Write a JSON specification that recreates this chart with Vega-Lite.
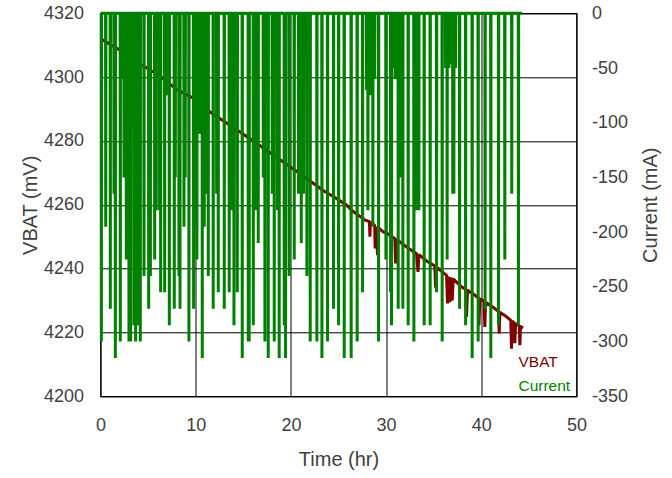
{
"$schema": "https://vega.github.io/schema/vega-lite/v6.json",
"width": 476, "height": 383,
"autosize": "none",
"padding": {"left": 100.5, "top": 13.3, "right": 95, "bottom": 82},
"background": "white",
"config": {
 "font": "Liberation Sans",
 "view": {"stroke": "#000", "strokeWidth": 1.2},
 "axis": {"labelFont": "Liberation Sans", "titleFont": "Liberation Sans", "labelFontSize": 18, "titleFontSize": 20, "labelColor": "#404040", "titleColor": "#404040", "titleFontWeight": "normal", "ticks": false, "tickSize": 0, "domain": false, "gridColor": "#000", "gridOpacity": 1, "gridWidth": 1, "zindex": 1, "labelFlush": false, "labelOverlap": false}
},
"datasets": {
 "vbat": [
  {"t":0,"v":4312},{"t":0.26,"v":4311.6},{"t":1.84,"v":4308.8},{"t":3.87,"v":4304.6},{"t":5.97,"v":4300.9},{"t":8.07,"v":4296},{"t":10.13,"v":4292.8},{"t":11.5,"v":4289.1},{"t":14.12,"v":4283.9},{"t":16.92,"v":4278.2},{"t":20.18,"v":4271.4},{"t":22.38,"v":4266.7},{"t":23.4,"v":4264.5},{"t":24.66,"v":4262.2},{"t":25.85,"v":4259.9},{"t":26.58,"v":4257.8},{"t":27.8,"v":4255.2},{"t":28.25,"v":4254.7},{"t":28.3,"v":4250},{"t":28.35,"v":4254.5},{"t":28.8,"v":4253.6},{"t":28.85,"v":4246.3},{"t":28.95,"v":4253.2},{"t":29.1,"v":4244.2},{"t":29.2,"v":4252.8},{"t":29.7,"v":4251.5},{"t":30.26,"v":4250.8},{"t":30.92,"v":4249.4},{"t":31.0,"v":4241.6},{"t":31.08,"v":4249.2},{"t":32.15,"v":4246.8},{"t":33.2,"v":4244.7},{"t":33.35,"v":4239},{"t":33.45,"v":4244.4},{"t":34.25,"v":4242.4},{"t":35.12,"v":4240.8},{"t":35.2,"v":4234},{"t":35.28,"v":4240.5},{"t":36.35,"v":4237.9},{"t":36.45,"v":4229.1},{"t":36.55,"v":4237.5},{"t":36.7,"v":4229.5},{"t":36.8,"v":4237.3},{"t":36.95,"v":4230},{"t":37.05,"v":4236.8},{"t":37.92,"v":4234.3},{"t":38.4,"v":4233.5},{"t":38.45,"v":4224.9},{"t":38.55,"v":4233.2},{"t":39.32,"v":4231.7},{"t":39.7,"v":4230.8},{"t":39.75,"v":4222.3},{"t":39.85,"v":4230.5},{"t":40.3,"v":4229.8},{"t":40.37,"v":4221.7},{"t":40.45,"v":4229.5},{"t":41.42,"v":4227.5},{"t":41.82,"v":4226.5},{"t":41.88,"v":4219.7},{"t":41.95,"v":4226.3},{"t":42.65,"v":4224.9},{"t":43.1,"v":4223.8},{"t":43.17,"v":4214.9},{"t":43.25,"v":4223.6},{"t":43.45,"v":4223},{"t":43.52,"v":4216.6},{"t":43.6,"v":4222.8},{"t":44.0,"v":4222},{"t":44.05,"v":4216},{"t":44.12,"v":4221.8},{"t":44.4,"v":4221.5}
 ],
 "cur": [
  {"t":0,"i":0},
  {"t":0.07,"i":0},{"t":0.09,"i":-300},{"t":0.11,"i":0},
  {"t":0.53,"i":0},{"t":0.55,"i":-195},{"t":0.57,"i":0},
  {"t":1.01,"i":0},{"t":1.03,"i":-270},{"t":1.05,"i":0},
  {"t":1.4,"i":0},{"t":1.42,"i":-165},{"t":1.44,"i":0},
  {"t":1.54,"i":0},{"t":1.56,"i":-315},{"t":1.58,"i":0},
  {"t":2.06,"i":0},{"t":2.08,"i":-300},{"t":2.1,"i":0},
  {"t":2.28,"i":0},{"t":2.3,"i":-60},{"t":2.32,"i":0},
  {"t":2.45,"i":0},{"t":2.47,"i":-150},{"t":2.49,"i":0},
  {"t":2.58,"i":0},{"t":2.6,"i":-70},{"t":2.62,"i":0},
  {"t":2.69,"i":0},{"t":2.71,"i":-225},{"t":2.73,"i":0},
  {"t":2.83,"i":0},{"t":2.85,"i":-100},{"t":2.87,"i":0},
  {"t":2.97,"i":0},{"t":2.99,"i":-300},{"t":3.01,"i":0},
  {"t":3.15,"i":0},{"t":3.17,"i":-300},{"t":3.19,"i":0},
  {"t":3.33,"i":0},{"t":3.35,"i":-105},{"t":3.37,"i":0},
  {"t":3.5,"i":0},{"t":3.52,"i":-285},{"t":3.54,"i":0},
  {"t":3.67,"i":0},{"t":3.69,"i":-300},{"t":3.71,"i":0},
  {"t":3.83,"i":0},{"t":3.85,"i":-60},{"t":3.87,"i":0},
  {"t":3.98,"i":0},{"t":4.0,"i":-285},{"t":4.02,"i":0},
  {"t":4.16,"i":0},{"t":4.18,"i":-300},{"t":4.2,"i":0},
  {"t":4.55,"i":0},{"t":4.57,"i":-240},{"t":4.59,"i":0},
  {"t":5.04,"i":0},{"t":5.06,"i":-270},{"t":5.08,"i":0},
  {"t":5.22,"i":0},{"t":5.24,"i":-240},{"t":5.26,"i":0},
  {"t":5.67,"i":0},{"t":5.69,"i":-225},{"t":5.71,"i":0},
  {"t":5.84,"i":0},{"t":5.86,"i":-180},{"t":5.88,"i":0},
  {"t":6.19,"i":0},{"t":6.21,"i":-180},{"t":6.23,"i":0},
  {"t":6.3,"i":0},{"t":6.32,"i":-255},{"t":6.34,"i":0},
  {"t":6.72,"i":0},{"t":6.74,"i":-255},{"t":6.76,"i":0},
  {"t":6.88,"i":0},{"t":6.9,"i":-75},{"t":6.92,"i":0},
  {"t":7.21,"i":0},{"t":7.23,"i":-285},{"t":7.25,"i":0},
  {"t":7.73,"i":0},{"t":7.75,"i":-270},{"t":7.77,"i":0},
  {"t":7.84,"i":0},{"t":7.86,"i":-150},{"t":7.88,"i":0},
  {"t":8.22,"i":0},{"t":8.24,"i":-240},{"t":8.26,"i":0},
  {"t":8.33,"i":0},{"t":8.35,"i":-270},{"t":8.37,"i":0},
  {"t":8.75,"i":0},{"t":8.77,"i":-195},{"t":8.79,"i":0},
  {"t":8.88,"i":0},{"t":8.9,"i":-150},{"t":8.92,"i":0},
  {"t":9.27,"i":0},{"t":9.29,"i":-300},{"t":9.31,"i":0},
  {"t":9.76,"i":0},{"t":9.78,"i":-270},{"t":9.8,"i":0},
  {"t":9.87,"i":0},{"t":9.89,"i":-195},{"t":9.91,"i":0},
  {"t":10.11,"i":0},{"t":10.13,"i":-225},{"t":10.15,"i":0},
  {"t":10.28,"i":0},{"t":10.3,"i":-105},{"t":10.32,"i":0},
  {"t":10.43,"i":0},{"t":10.45,"i":-110},{"t":10.47,"i":0},
  {"t":10.55,"i":0},{"t":10.57,"i":-100},{"t":10.59,"i":0},
  {"t":10.67,"i":0},{"t":10.69,"i":-315},{"t":10.71,"i":0},
  {"t":10.78,"i":0},{"t":10.8,"i":-105},{"t":10.82,"i":0},
  {"t":10.88,"i":0},{"t":10.9,"i":-195},{"t":10.92,"i":0},
  {"t":11.01,"i":0},{"t":11.03,"i":-105},{"t":11.05,"i":0},
  {"t":11.13,"i":0},{"t":11.15,"i":-165},{"t":11.17,"i":0},
  {"t":11.3,"i":0},{"t":11.32,"i":-240},{"t":11.34,"i":0},
  {"t":11.82,"i":0},{"t":11.84,"i":-270},{"t":11.86,"i":0},
  {"t":12.18,"i":0},{"t":12.2,"i":-165},{"t":12.22,"i":0},
  {"t":12.35,"i":0},{"t":12.37,"i":-255},{"t":12.39,"i":0},
  {"t":12.98,"i":0},{"t":13.0,"i":-270},{"t":13.02,"i":0},
  {"t":13.5,"i":0},{"t":13.52,"i":-255},{"t":13.54,"i":0},
  {"t":13.68,"i":0},{"t":13.7,"i":-180},{"t":13.72,"i":0},
  {"t":14.0,"i":0},{"t":14.02,"i":-285},{"t":14.04,"i":0},
  {"t":14.35,"i":0},{"t":14.37,"i":-255},{"t":14.39,"i":0},
  {"t":14.87,"i":0},{"t":14.89,"i":-315},{"t":14.91,"i":0},
  {"t":15.5,"i":0},{"t":15.52,"i":-300},{"t":15.54,"i":0},
  {"t":15.6,"i":0},{"t":15.62,"i":-300},{"t":15.64,"i":0},
  {"t":16.03,"i":0},{"t":16.05,"i":-285},{"t":16.07,"i":0},
  {"t":16.31,"i":0},{"t":16.33,"i":-180},{"t":16.35,"i":0},
  {"t":16.55,"i":0},{"t":16.57,"i":-210},{"t":16.59,"i":0},
  {"t":17.08,"i":0},{"t":17.1,"i":-150},{"t":17.12,"i":0},
  {"t":17.25,"i":0},{"t":17.27,"i":-300},{"t":17.29,"i":0},
  {"t":17.6,"i":0},{"t":17.62,"i":-315},{"t":17.64,"i":0},
  {"t":18.02,"i":0},{"t":18.04,"i":-165},{"t":18.06,"i":0},
  {"t":18.23,"i":0},{"t":18.25,"i":-300},{"t":18.27,"i":0},
  {"t":18.58,"i":0},{"t":18.6,"i":-180},{"t":18.62,"i":0},
  {"t":18.75,"i":0},{"t":18.77,"i":-315},{"t":18.79,"i":0},
  {"t":19.28,"i":0},{"t":19.3,"i":-285},{"t":19.32,"i":0},
  {"t":19.42,"i":0},{"t":19.44,"i":-315},{"t":19.46,"i":0},
  {"t":19.8,"i":0},{"t":19.82,"i":-240},{"t":19.84,"i":0},
  {"t":20.33,"i":0},{"t":20.35,"i":-225},{"t":20.37,"i":0},
  {"t":20.78,"i":0},{"t":20.8,"i":-165},{"t":20.82,"i":0},
  {"t":21.07,"i":0},{"t":21.09,"i":-210},{"t":21.11,"i":0},
  {"t":21.31,"i":0},{"t":21.33,"i":-165},{"t":21.35,"i":0},
  {"t":21.66,"i":0},{"t":21.68,"i":-240},{"t":21.7,"i":0},
  {"t":22.01,"i":0},{"t":22.03,"i":-300},{"t":22.05,"i":0},
  {"t":22.71,"i":0},{"t":22.73,"i":-300},{"t":22.75,"i":0},
  {"t":23.24,"i":0},{"t":23.26,"i":-315},{"t":23.28,"i":0},
  {"t":23.83,"i":0},{"t":23.85,"i":-300},{"t":23.87,"i":0},
  {"t":24.46,"i":0},{"t":24.48,"i":-270},{"t":24.5,"i":0},
  {"t":24.99,"i":0},{"t":25.01,"i":-285},{"t":25.03,"i":0},
  {"t":25.58,"i":0},{"t":25.6,"i":-315},{"t":25.62,"i":0},
  {"t":26.31,"i":0},{"t":26.33,"i":-315},{"t":26.35,"i":0},
  {"t":26.94,"i":0},{"t":26.96,"i":-300},{"t":26.98,"i":0},
  {"t":27.51,"i":0},{"t":27.53,"i":-255},{"t":27.55,"i":0},
  {"t":27.93,"i":0},{"t":27.95,"i":-70},{"t":27.97,"i":0},
  {"t":28.07,"i":0},{"t":28.09,"i":-180},{"t":28.11,"i":0},
  {"t":28.28,"i":0},{"t":28.3,"i":-75},{"t":28.32,"i":0},
  {"t":28.46,"i":0},{"t":28.48,"i":-75},{"t":28.5,"i":0},
  {"t":28.59,"i":0},{"t":28.61,"i":-195},{"t":28.63,"i":0},
  {"t":28.78,"i":0},{"t":28.8,"i":-60},{"t":28.82,"i":0},
  {"t":29.19,"i":0},{"t":29.21,"i":-300},{"t":29.23,"i":0},
  {"t":29.96,"i":0},{"t":29.98,"i":-225},{"t":30.0,"i":0},
  {"t":30.45,"i":0},{"t":30.47,"i":-255},{"t":30.49,"i":0},
  {"t":30.55,"i":0},{"t":30.57,"i":-285},{"t":30.59,"i":0},
  {"t":30.73,"i":0},{"t":30.75,"i":-50},{"t":30.77,"i":0},
  {"t":30.93,"i":0},{"t":30.95,"i":-60},{"t":30.97,"i":0},
  {"t":31.25,"i":0},{"t":31.27,"i":-270},{"t":31.29,"i":0},
  {"t":31.48,"i":0},{"t":31.5,"i":-150},{"t":31.52,"i":0},
  {"t":31.63,"i":0},{"t":31.65,"i":-50},{"t":31.67,"i":0},
  {"t":31.74,"i":0},{"t":31.76,"i":-270},{"t":31.78,"i":0},
  {"t":32.3,"i":0},{"t":32.32,"i":-285},{"t":32.34,"i":0},
  {"t":32.9,"i":0},{"t":32.92,"i":-300},{"t":32.94,"i":0},
  {"t":33.18,"i":0},{"t":33.2,"i":-180},{"t":33.22,"i":0},
  {"t":33.42,"i":0},{"t":33.44,"i":-180},{"t":33.46,"i":0},
  {"t":33.98,"i":0},{"t":34.0,"i":-285},{"t":34.02,"i":0},
  {"t":34.61,"i":0},{"t":34.63,"i":-285},{"t":34.65,"i":0},
  {"t":35.28,"i":0},{"t":35.3,"i":-255},{"t":35.32,"i":0},
  {"t":35.87,"i":0},{"t":35.89,"i":-300},{"t":35.91,"i":0},
  {"t":36.23,"i":0},{"t":36.25,"i":-50},{"t":36.27,"i":0},
  {"t":36.39,"i":0},{"t":36.41,"i":-225},{"t":36.43,"i":0},
  {"t":36.58,"i":0},{"t":36.6,"i":-50},{"t":36.62,"i":0},
  {"t":36.75,"i":0},{"t":36.77,"i":-46},{"t":36.79,"i":0},
  {"t":36.98,"i":0},{"t":37.0,"i":-165},{"t":37.02,"i":0},
  {"t":37.1,"i":0},{"t":37.12,"i":-165},{"t":37.14,"i":0},
  {"t":37.28,"i":0},{"t":37.3,"i":-50},{"t":37.32,"i":0},
  {"t":37.7,"i":0},{"t":37.72,"i":-270},{"t":37.74,"i":0},
  {"t":38.33,"i":0},{"t":38.35,"i":-285},{"t":38.37,"i":0},
  {"t":39.02,"i":0},{"t":39.04,"i":-315},{"t":39.06,"i":0},
  {"t":39.65,"i":0},{"t":39.67,"i":-300},{"t":39.69,"i":0},
  {"t":40.38,"i":0},{"t":40.4,"i":-270},{"t":40.42,"i":0},
  {"t":40.98,"i":0},{"t":41.0,"i":-315},{"t":41.02,"i":0},
  {"t":41.79,"i":0},{"t":41.81,"i":-285},{"t":41.83,"i":0},
  {"t":42.45,"i":0},{"t":42.47,"i":-225},{"t":42.49,"i":0},
  {"t":43.18,"i":0},{"t":43.2,"i":-165},{"t":43.22,"i":0},
  {"t":43.88,"i":0},{"t":43.9,"i":-285},{"t":43.92,"i":0},
  {"t":44.3,"i":0}
 ]
},
"layer": [
 {
  "data": {"name": "vbat"},
  "mark": {"type": "line", "strokeWidth": 3, "strokeJoin": "bevel", "strokeCap": "butt"},
  "encoding": {
   "x": {"field": "t", "type": "quantitative", "scale": {"domain": [0, 50], "nice": false, "zero": false},
         "axis": {"values": [0, 10, 20, 30, 40, 50], "title": "Time (hr)", "labelPadding": 20, "titlePadding": 15, "grid": true}},
   "y": {"field": "v", "type": "quantitative", "scale": {"domain": [4200, 4320], "nice": false, "zero": false},
         "axis": {"orient": "left", "values": [4200, 4220, 4240, 4260, 4280, 4300, 4320], "title": "VBAT (mV)", "labelPadding": 17, "titlePadding": 3, "grid": true, "labelExpr": "'' + datum.value"}},
   "color": {"datum": "VBAT", "type": "nominal",
             "scale": {"domain": ["VBAT", "Current"], "range": ["#800000", "#008000"]},
             "legend": {"title": null, "orient": "none", "legendX": 402.5, "legendY": 341, "symbolSize": 0, "symbolStrokeWidth": 0, "symbolOpacity": 0, "labelOffset": 0, "padding": 0, "rowPadding": 6.5, "labelFontSize": 15.5, "labelFont": "Liberation Sans",
                        "labelColor": {"expr": "datum.label == 'VBAT' ? '#800000' : '#008000'"}}}
  }
 },
 {
  "data": {"name": "cur"},
  "mark": {"type": "line", "strokeWidth": 3, "strokeJoin": "bevel", "strokeCap": "butt"},
  "encoding": {
   "x": {"field": "t", "type": "quantitative"},
   "y": {"field": "i", "type": "quantitative", "scale": {"domain": [-350, 0], "nice": false, "zero": false},
         "axis": {"orient": "right", "values": [-350, -300, -250, -200, -150, -100, -50, 0], "title": "Current (mA)", "titleAngle": -90, "grid": false, "labelPadding": 15, "titlePadding": 33, "labelExpr": "'' + datum.value"}},
   "color": {"datum": "Current", "type": "nominal"}
  }
 }
],
"resolve": {"scale": {"y": "independent"}}
}
